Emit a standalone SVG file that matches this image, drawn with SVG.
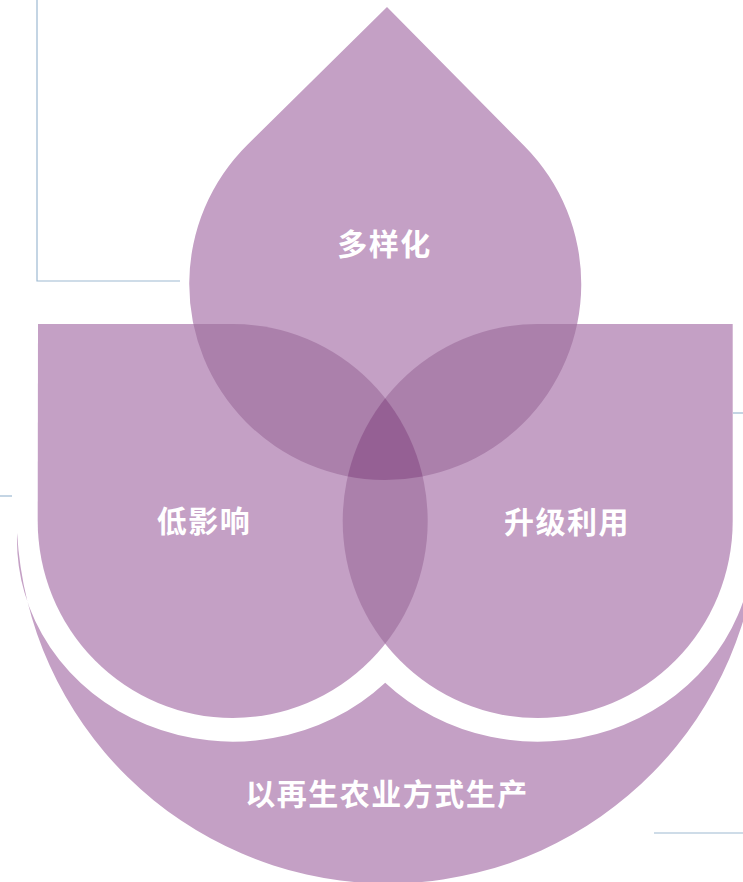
<svg xmlns="http://www.w3.org/2000/svg" xmlns:xlink="http://www.w3.org/1999/xlink" width="743" height="882" viewBox="0 0 743 882">
  <style>
    .base { fill: #C4A0C5; }
    .dbl { fill: #AB80AB; }
    .tri { fill: #956094; }
    .guide { fill: none; stroke: #9DBAD2; stroke-width: 1.2; }
    .lbl { fill: #FFFFFF; font-family: "Noto Sans CJK SC", "Noto Sans", sans-serif; font-weight: 700; font-size: 30px; letter-spacing: 1.5px; text-anchor: middle; }
  </style>
  <defs>
    <path id="shapeT" d="M387,7 L524.6,146.2 A196,196 0 1,1 247.7,144.4 Z"/>
    <path id="shapeL" d="M38,324 L232.7,324 A195,197 0 1,1 37.7,521 Z"/>
    <path id="shapeR" d="M732.7,324 L537.7,324 A195,197 0 1,0 732.7,521 Z"/>
    <clipPath id="clipL"><use xlink:href="#shapeL"/></clipPath>
    <clipPath id="clipR"><use xlink:href="#shapeR"/></clipPath>
  </defs>
  <rect width="743" height="882" fill="#FFFFFF"/>

  <g id="guides">
    <path class="guide" d="M37,0 V281 H180"/>
    <path class="guide" d="M0,496 H12"/>
    <path class="guide" d="M733,413 H743"/>
    <path class="guide" d="M654,833 H743"/>
  </g>

  <g id="bowl">
    <path class="base" d="M17.1,533 A371.5,371.5 0 0,0 756.4,560 L752.4,560 A215.8,201.7 0 0,1 385.2,682.7 A215.8,201.7 0 0,1 17.1,533 Z"/>
  </g>

  <g id="petal-left">
    <use xlink:href="#shapeL" class="base"/>
  </g>
  <g id="petal-right">
    <use xlink:href="#shapeR" class="base"/>
  </g>
  <g id="drop-top">
    <use xlink:href="#shapeT" class="base"/>
  </g>

  <g id="overlaps">
    <g clip-path="url(#clipL)"><use xlink:href="#shapeR" class="dbl"/></g>
    <g clip-path="url(#clipL)"><use xlink:href="#shapeT" class="dbl"/></g>
    <g clip-path="url(#clipR)"><use xlink:href="#shapeT" class="dbl"/></g>
    <g clip-path="url(#clipL)"><g clip-path="url(#clipR)"><use xlink:href="#shapeT" class="tri"/></g></g>
  </g>

  <g id="labels">
    <text class="lbl" x="384.5" y="255.4">多样化</text>
    <text class="lbl" x="204" y="532.4">低影响</text>
    <text class="lbl" x="567" y="533">升级利用</text>
    <text class="lbl" x="387" y="805">以再生农业方式生产</text>
  </g>
</svg>
